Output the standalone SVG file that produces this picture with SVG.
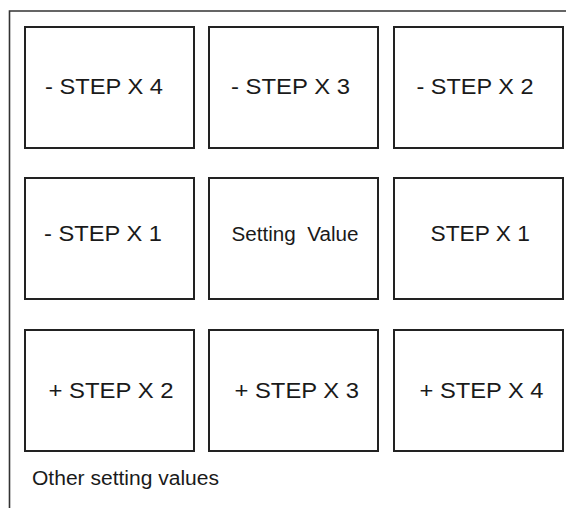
<svg xmlns="http://www.w3.org/2000/svg" width="566" height="508" viewBox="0 0 566 508">
<style>
.box{fill:#fff;stroke:#222;stroke-width:2}
.frame{fill:none;stroke:#333;stroke-width:1.6}
.t{font-family:"Liberation Sans",Arial,sans-serif;font-size:22px;fill:#1a1a1a}
.s{font-family:"Liberation Sans",Arial,sans-serif;font-size:20px;fill:#1a1a1a}
</style>
<rect width="566" height="508" fill="#fff"/>
<path class="frame" d="M566 11 H9.5 V508"/>
<g id="n-step4"><rect class="box" x="25" y="27" width="169" height="121"/><text class="t" x="45" y="94" textLength="118" lengthAdjust="spacingAndGlyphs">- STEP X 4</text></g>
<g id="n-step3"><rect class="box" x="209" y="27" width="169" height="121"/><text class="t" x="231" y="94" textLength="119" lengthAdjust="spacingAndGlyphs">- STEP X 3</text></g>
<g id="n-step2"><rect class="box" x="394" y="27" width="169" height="121"/><text class="t" x="416.5" y="94" textLength="117" lengthAdjust="spacingAndGlyphs">- STEP X 2</text></g>
<g id="n-step1"><rect class="box" x="25" y="178" width="169" height="121"/><text class="t" x="44" y="241" textLength="118" lengthAdjust="spacingAndGlyphs">- STEP X 1</text></g>
<g id="n-setting"><rect class="box" x="209" y="178" width="169" height="121"/><text class="s" x="231.5" y="241" textLength="127" lengthAdjust="spacingAndGlyphs">Setting&#160; Value</text></g>
<g id="p-step1"><rect class="box" x="394" y="178" width="169" height="121"/><text class="t" x="430.5" y="241" textLength="99.5" lengthAdjust="spacingAndGlyphs">STEP X 1</text></g>
<g id="p-step2"><rect class="box" x="25" y="330" width="169" height="121"/><text class="t" x="48.5" y="397.5" textLength="125" lengthAdjust="spacingAndGlyphs">+ STEP X 2</text></g>
<g id="p-step3"><rect class="box" x="209" y="330" width="169" height="121"/><text class="t" x="234.5" y="397.5" textLength="124.5" lengthAdjust="spacingAndGlyphs">+ STEP X 3</text></g>
<g id="p-step4"><rect class="box" x="394" y="330" width="169" height="121"/><text class="t" x="419.5" y="397.5" textLength="124" lengthAdjust="spacingAndGlyphs">+ STEP X 4</text></g>
<g id="caption"><text class="s" x="32" y="485" textLength="187" lengthAdjust="spacingAndGlyphs">Other setting values</text></g>
<g id="connectors"></g>
</svg>
